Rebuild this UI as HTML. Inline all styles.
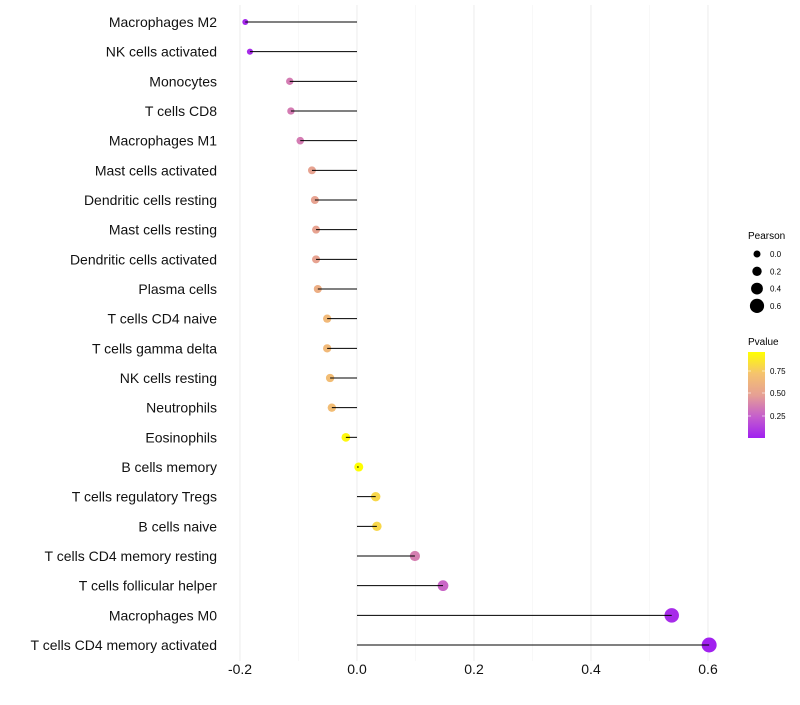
<!DOCTYPE html>
<html><head><meta charset="utf-8"><style>
body{margin:0;background:#fff;font-family:"Liberation Sans",sans-serif}
</style></head><body>
<svg id="chart" width="800" height="700" xmlns="http://www.w3.org/2000/svg" font-family="Liberation Sans, sans-serif">
<g id="grid"></g>
<g id="marks"></g>
<g id="ylabels"></g>
<g id="xlabels"></g>
<g>
<text x="748" y="239" font-size="10">Pearson</text>
<g id="sizeleg"></g>
</g>
<g>
<text x="748" y="345" font-size="10">Pvalue</text>
<defs><linearGradient id="pg" x1="0" y1="1" x2="0" y2="0">
<stop offset="0" stop-color="#A020F0"/><stop offset="0.25" stop-color="#C55FCC"/><stop offset="0.5" stop-color="#E6A094"/><stop offset="0.75" stop-color="#F5C36E"/><stop offset="1" stop-color="#FFFF00"/></linearGradient></defs>
<rect x="748" y="352" width="17" height="86" fill="url(#pg)"/>
<g font-size="8"><text x="770" y="374">0.75</text><text x="770" y="396">0.50</text><text x="770" y="419">0.25</text></g>
<g stroke="#fff" stroke-opacity="0.6"><line x1="748" x2="751" y1="371" y2="371"/><line x1="762" x2="765" y1="371" y2="371"/><line x1="748" x2="751" y1="393" y2="393"/><line x1="762" x2="765" y1="393" y2="393"/><line x1="748" x2="751" y1="416" y2="416"/><line x1="762" x2="765" y1="416" y2="416"/></g>
</g>
</svg>
<script>
const categories=["Macrophages M2","NK cells activated","Monocytes","T cells CD8","Macrophages M1","Mast cells activated","Dendritic cells resting","Mast cells resting","Dendritic cells activated","Plasma cells","T cells CD4 naive","T cells gamma delta","NK cells resting","Neutrophils","Eosinophils","B cells memory","T cells regulatory  Tregs ","B cells naive","T cells CD4 memory resting","T cells follicular helper","Macrophages M0","T cells CD4 memory activated"];
const pearson=[-0.191,-0.183,-0.115,-0.113,-0.097,-0.077,-0.072,-0.070,-0.070,-0.067,-0.051,-0.051,-0.046,-0.043,-0.019,0.003,0.032,0.034,0.099,0.147,0.538,0.602];
const pvalue=[0.03,0.05,0.35,0.35,0.35,0.5,0.5,0.5,0.5,0.58,0.65,0.65,0.68,0.68,0.93,0.98,0.8,0.8,0.36,0.27,0.05,0.01];
const xTicks=[-0.2,0,0.2,0.4,0.6];
const xTickLabels=["-0.2","0.0","0.2","0.4","0.6"];
const sizeLegend=[0,0.2,0.4,0.6];
const NS="http://www.w3.org/2000/svg";
const x=v=>357+v*585;
const y=i=>22+i*(623/(categories.length-1));
const r=v=>Math.sqrt(Math.max(4,20.2+59.7*v));
const stops=[[0,[160,32,240]],[0.25,[197,95,204]],[0.5,[230,160,148]],[0.75,[245,195,110]],[1,[255,255,0]]];
const vmin=0.005,vmax=0.96;
function col(p){let t=Math.max(0,Math.min(1,(p-vmin)/(vmax-vmin)));for(let k=1;k<stops.length;k++){if(t<=stops[k][0]){const a=stops[k-1],b=stops[k],f=(t-a[0])/(b[0]-a[0]);return "rgb("+a[1].map((c,j)=>Math.round(c+(b[1][j]-c)*f)).join(",")+")";}}return "rgb(255,255,0)";}
function mk(tag,attrs,parent){const e=document.createElementNS(NS,tag);for(const k in attrs)e.setAttribute(k,attrs[k]);parent.appendChild(e);return e;}
const grid=document.getElementById('grid'),marks=document.getElementById('marks'),yl=document.getElementById('ylabels'),xl=document.getElementById('xlabels'),sl=document.getElementById('sizeleg');
for(let v=-0.2;v<=0.61;v+=0.1){const maj=Math.abs(Math.round(v*10))%2===0;const g=mk('line',{x1:x(v),x2:x(v),y1:5,y2:661,stroke:maj?'#ededed':'#f4f4f4','stroke-width':maj?1.1:0.6},grid);

}
categories.forEach((c,i)=>{
const pt=mk('circle',{cx:x(pearson[i]),cy:y(i),r:r(pearson[i]),fill:col(pvalue[i])},marks);


const ln=mk('line',{x1:x(0),x2:x(pearson[i]),y1:y(i),y2:y(i),stroke:'#000','stroke-width':1},marks);


const t=mk('text',{x:217,y:y(i)+5,'text-anchor':'end','font-size':14,fill:'#111'},yl);t.textContent=c;


});
xTicks.forEach((v,i)=>{const t=mk('text',{x:x(v),y:674,'text-anchor':'middle','font-size':14,fill:'#111'},xl);t.textContent=xTickLabels[i];

});
sizeLegend.forEach((v,i)=>{const cy=254+i*17.3;
const c=mk('circle',{cx:757,cy:cy,r:3.5+i*1.2,fill:'#000'},sl);


const t=mk('text',{x:770,y:cy+3,'font-size':8},sl);t.textContent=v.toFixed(1);

});
</script>
</body></html>
